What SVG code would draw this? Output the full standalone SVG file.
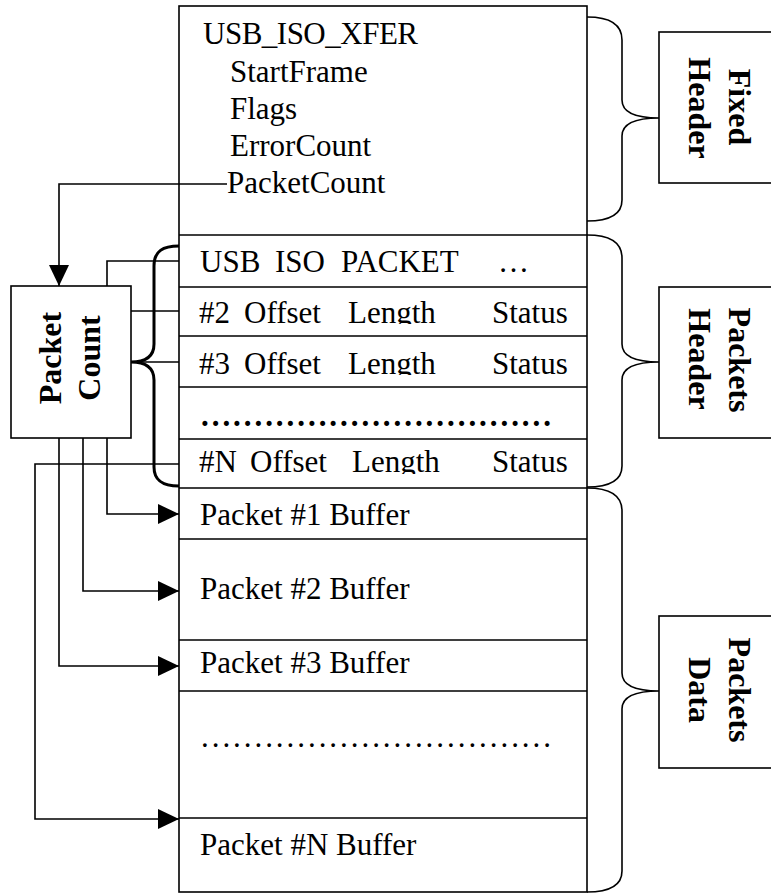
<svg xmlns="http://www.w3.org/2000/svg" width="771" height="894" viewBox="0 0 771 894">
  <style>
    .box { fill: #fff; stroke: #000; stroke-width: 1.6; }
    .sep { stroke: #000; stroke-width: 1.6; fill: none; }
    .brace { fill: none; stroke: #000; stroke-width: 1.6; }
    .brace-bold { fill: none; stroke: #000; stroke-width: 3; }
    .wire { fill: none; stroke: #000; stroke-width: 1.6; }
    .t { font-family: "Liberation Serif", "Times New Roman", serif; font-size: 31px; fill: #000; }
    .b { font-family: "Liberation Serif", "Times New Roman", serif; font-size: 32px; font-weight: bold; fill: #000; text-anchor: middle; }
  </style>
  <defs>
    <marker id="arrow" markerUnits="userSpaceOnUse" markerWidth="22" markerHeight="22" refX="21" refY="10" orient="auto">
      <path d="M0,0 L21,10 L0,20 Z" fill="#000"/>
    </marker>
    <clipPath id="clip-usb"><rect x="180" y="236" width="406" height="37"/></clipPath>
    <clipPath id="clip-p2"><rect x="180" y="288" width="406" height="36"/></clipPath>
    <clipPath id="clip-p3"><rect x="180" y="337" width="406" height="38"/></clipPath>
    <clipPath id="clip-pn"><rect x="180" y="440" width="406" height="34"/></clipPath>
  </defs>

  <!-- memory layout column -->
  <g id="xfer-column">
    <rect class="box" x="179" y="6" width="408" height="886"/>
    <path class="sep" d="M179,235 H587 M179,287 H587 M179,336 H587 M179,387 H587 M179,439 H587 M179,488 H587 M179,539 H587 M179,640 H587 M179,691 H587 M179,818 H587"/>
  </g>

  <g id="fixed-header-fields">
    <text class="t" x="203" y="43.5" textLength="215">USB_ISO_XFER</text>
    <text class="t" x="230" y="81.5">StartFrame</text>
    <text class="t" x="230" y="118.5">Flags</text>
    <text class="t" x="230" y="155.5">ErrorCount</text>
    <text class="t" x="227" y="192.5">PacketCount</text>
  </g>

  <g id="packet-descriptors">
    <text class="t" y="271.5" clip-path="url(#clip-usb)"><tspan x="200">USB</tspan><tspan x="275">ISO</tspan><tspan x="341">PACKET</tspan><tspan x="498">…</tspan></text>
    <text class="t" y="322.5" clip-path="url(#clip-p2)"><tspan x="199">#2</tspan><tspan x="244">Offset</tspan><tspan x="348">Length</tspan><tspan x="492">Status</tspan></text>
    <text class="t" y="373.5" clip-path="url(#clip-p3)"><tspan x="199">#3</tspan><tspan x="244">Offset</tspan><tspan x="348">Length</tspan><tspan x="492">Status</tspan></text>
    <text class="t" x="201" y="426" font-weight="bold" textLength="350" lengthAdjust="spacing">.................................</text>
    <text class="t" y="472" clip-path="url(#clip-pn)"><tspan x="199">#N</tspan><tspan x="250">Offset</tspan><tspan x="352">Length</tspan><tspan x="492">Status</tspan></text>
  </g>

  <g id="packet-buffers">
    <text class="t" x="200" y="525">Packet #1 Buffer</text>
    <text class="t" x="200" y="598.5">Packet #2 Buffer</text>
    <text class="t" x="200" y="672.5">Packet #3 Buffer</text>
    <text class="t" x="201" y="747" textLength="350" lengthAdjust="spacing">.................................</text>
    <text class="t" x="200" y="855">Packet #N Buffer</text>
  </g>

  <!-- packet count node -->
  <g id="packet-count">
    <rect class="box" x="11" y="286" width="120" height="152"/>
    <text class="b" transform="translate(61,358) rotate(-90)">Packet</text>
    <text class="b" transform="translate(100,358) rotate(-90)">Count</text>
  </g>

  <!-- section labels -->
  <g id="fixed-header">
    <rect class="box" x="659" y="32" width="130" height="151"/>
    <text class="b" transform="translate(728.5,107) rotate(90)">Fixed</text>
    <text class="b" transform="translate(688.5,108) rotate(90)">Header</text>
  </g>
  <g id="packets-header">
    <rect class="box" x="659" y="287" width="130" height="151"/>
    <text class="b" transform="translate(728.5,360) rotate(90)">Packets</text>
    <text class="b" transform="translate(688.5,359) rotate(90)">Header</text>
  </g>
  <g id="packets-data">
    <rect class="box" x="659" y="616" width="130" height="152"/>
    <text class="b" transform="translate(728.5,690) rotate(90)">Packets</text>
    <text class="b" transform="translate(688.5,690) rotate(90)">Data</text>
  </g>

  <!-- braces grouping the sections -->
  <g id="braces">
    <path class="brace" d="M587,17 C607,17 622,22 622,40 V100 C622,113 638,118 659,118 C638,118 622,123 622,136 V200 C622,216 607,221 587,221"/>
    <path class="brace" d="M587,235 C607,235 622,240 622,258 V344 C622,357 638,362 659,362 C638,362 622,367 622,380 V466 C622,482 607,487 587,487"/>
    <path class="brace" d="M587,488 C607,488 622,493 622,511 V673 C622,686 638,691 659,691 C638,691 622,696 622,709 V871 C622,887 607,892 587,892"/>
    <path class="brace-bold" d="M179,246 C163,246 154,251 154,266 V344 C154,356 146,362 131,362 C146,362 154,368 154,380 V467 C154,481 163,486 179,486"/>
  </g>

  <!-- connectors -->
  <g id="connectors">
    <path class="wire" d="M227,184 H59 V286" marker-end="url(#arrow)"/>
    <path class="wire" d="M107,286 V261 H179"/>
    <path class="wire" d="M131,311 H179"/>
    <path class="wire" d="M131,362 H179"/>
    <path class="wire" d="M179,464 H35 V819 H179" marker-end="url(#arrow)"/>
    <path class="wire" d="M107,438 V514 H179" marker-end="url(#arrow)"/>
    <path class="wire" d="M83,438 V591 H179" marker-end="url(#arrow)"/>
    <path class="wire" d="M59,438 V666 H179" marker-end="url(#arrow)"/>
  </g>
</svg>
